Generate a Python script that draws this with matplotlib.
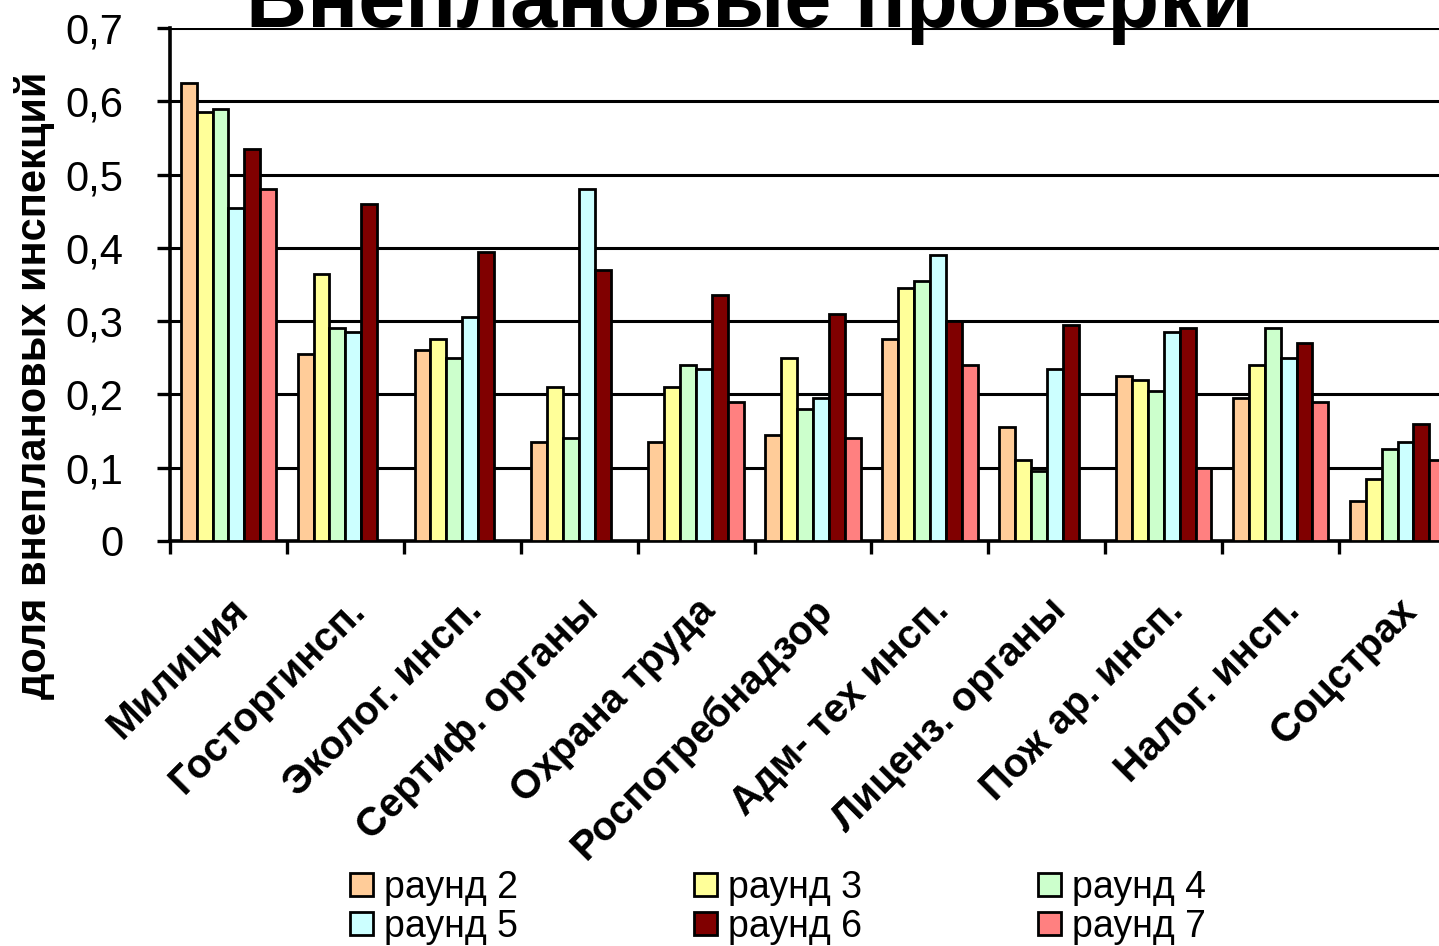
import numpy as np
import matplotlib
matplotlib.use("Agg")
import matplotlib.pyplot as plt

plt.rcParams['font.family'] = ['Liberation Sans', 'DejaVu Sans']

# DATA
categories = ['Милиция', 'Госторгинсп.', 'Эколог. инсп.', 'Сертиф. органы',
              'Охрана труда', 'Роспотребнадзор', 'Адм- тех инсп.',
              'Лиценз. органы', 'Пож ар. инсп.', 'Налог. инсп.', 'Соцстрах']
nan = np.nan
round2 = [0.625, 0.255, 0.26, 0.135, 0.135, 0.145, 0.275, 0.155, 0.225, 0.195, 0.055]
round3 = [0.585, 0.365, 0.275, 0.21, 0.21, 0.25, 0.345, 0.11, 0.22, 0.24, 0.085]
round4 = [0.59, 0.29, 0.25, 0.14, 0.24, 0.18, 0.355, 0.095, 0.205, 0.29, 0.125]
round5 = [0.455, 0.285, 0.305, 0.48, 0.235, 0.195, 0.39, 0.235, 0.285, 0.25, 0.135]
round6 = [0.535, 0.46, 0.395, 0.37, 0.335, 0.31, 0.30, 0.295, 0.29, 0.27, 0.16]
round7 = [0.48, nan, nan, nan, 0.19, 0.14, 0.24, nan, 0.10, 0.19, 0.11]
series = [round2, round3, round4, round5, round6, round7]
labels = ['раунд 2', 'раунд 3', 'раунд 4', 'раунд 5', 'раунд 6', 'раунд 7']
colors = ['#FFCC99', '#FFFF99', '#CCFFCC', '#CCFFFF', '#800000', '#FF8080']

# FIGURE
fig = plt.figure(figsize=(14.39, 9.46), dpi=100, facecolor='w')
ax = fig.add_axes([170/1439, 405/946, 1286/1439, 513/946])

x = np.arange(len(categories))
bw = 0.136
handles = []
for i, (vals, lab, col) in enumerate(zip(series, labels, colors)):
    h = ax.bar(x + (i - 2.5)*bw, vals, width=bw, color=col, edgecolor='k',
               linewidth=2.0, label=lab, zorder=3)
    handles.append(h)

# Axes styling
ax.set_xlim(-0.5, len(categories) - 0.5)
ax.set_ylim(0, 0.7)
ax.set_yticks(np.arange(0, 0.71, 0.1))
ax.set_yticklabels(['0'] + ['0,%d' % k for k in range(1, 8)], fontsize=30)
ax.yaxis.grid(True, color='k', linewidth=2.2)
ax.set_axisbelow(True)
for s in ['top', 'right']:
    ax.spines[s].set_visible(False)
for s in ['left', 'bottom']:
    ax.spines[s].set_linewidth(2.6)
ax.tick_params(axis='y', length=9.5, width=2.4, pad=24)

# x ticks at category boundaries, labels at centers
ax.set_xticks(np.arange(-0.5, len(categories), 1.0))
ax.set_xticklabels([])
ax.tick_params(axis='x', length=9.5, width=2.4)
ax.set_xticks(x, minor=True)
ax.set_xticklabels(categories, minor=True, rotation=45, ha='right',
                   rotation_mode='anchor', fontsize=29, fontweight='bold')
ax.tick_params(axis='x', which='minor', length=0, pad=36)

# Title (clipped at top like the original)
fig.text(750/1439, 1 - 27/946, 'Внеплановые проверки', ha='center',
         va='baseline', fontsize=61, fontweight='bold')

# Y label
fig.text(35/1439, 1 - 385/946, 'доля внеплановых инспекций', rotation=90,
         ha='center', va='center', fontsize=30, fontweight='bold')

# Legend: 3 columns, row-wise order
order = [0, 3, 1, 4, 2, 5]
fig.legend([handles[k] for k in order], [labels[k] for k in order],
           ncol=3, loc='center', bbox_to_anchor=(778/1439, 1 - 907/946),
           frameon=False, fontsize=27, handlelength=0.6, handleheight=0.55,
           handletextpad=0.3, columnspacing=4.7, labelspacing=0.08,
           borderpad=0)

fig.savefig('out.png', dpi=100)
